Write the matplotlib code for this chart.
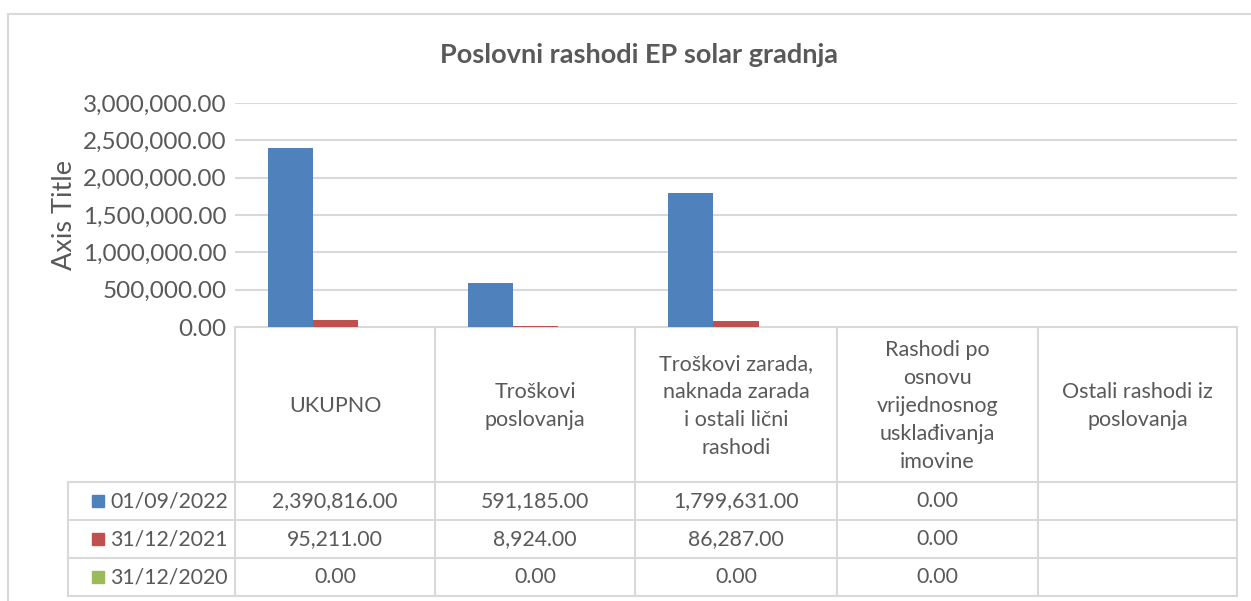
import matplotlib
matplotlib.use("Agg")
import matplotlib.pyplot as plt
from matplotlib.patches import Rectangle
from matplotlib.ticker import FuncFormatter, MultipleLocator

# podaci
categories = [
    "UKUPNO",
    "Troškovi\nposlovanja",
    "Troškovi zarada,\nnaknada zarada\ni ostali lični\nrashodi",
    "Rashodi po\nosnovu\nvrijednosnog\nusklađivanja\nimovine",
    "Ostali rashodi iz\nposlovanja",
]
series_names = ["01/09/2022", "31/12/2021", "31/12/2020"]
values_2022 = [2390816.00, 591185.00, 1799631.00, 0.00, None]
values_2021 = [95211.00, 8924.00, 86287.00, 0.00, None]
values_2020 = [0.00, 0.00, 0.00, 0.00, None]
series_values = [values_2022, values_2021, values_2020]
colors = ["#4F81BD", "#C0504D", "#9BBB59"]

TEXT = "#595959"
GRID = "#D9D9D9"
FONT = "Lato"

W, H = 1251, 601
fig = plt.figure(figsize=(W / 100, H / 100), dpi=100)


def px_rect(x0, y0, x1, y1):
    # pikseli (gore-lijevo) -> koordinate figure
    return [x0 / W, 1 - y1 / H, (x1 - x0) / W, (y1 - y0) / H]


# okvir grafikona
bg = fig.add_axes([0, 0, 1, 1])
bg.set_xlim(0, W)
bg.set_ylim(H, 0)
bg.axis("off")
bg.plot([8, W], [14, 14], color=GRID, lw=1.5)
bg.plot([8, 8], [14, H], color=GRID, lw=1.5)

# naslov
fig.text(639 / W, 1 - 55 / H, "Poslovni rashodi EP solar gradnja", ha="center", va="center",
         fontsize=19.5, fontweight="bold", color=TEXT, family=FONT)

# glavni dio grafikona
ax = fig.add_axes(px_rect(235, 103, 1237, 327))
n = len(categories)
bar_w = 0.225
for i, (vals, col) in enumerate(zip(series_values, colors)):
    xs = [k + (i - 1) * bar_w for k in range(n) if vals[k] is not None]
    ys = [v for v in vals if v is not None]
    ax.bar(xs, ys, width=bar_w, color=col, zorder=3)
ax.set_xlim(-0.5, n - 0.5)
ax.set_ylim(0, 3000000)
ax.yaxis.set_major_locator(MultipleLocator(500000))
ax.yaxis.set_major_formatter(FuncFormatter(lambda v, p: f"{v:,.2f}"))
ax.grid(axis="y", color=GRID, lw=1.5, zorder=0)
for s in ax.spines.values():
    s.set_visible(False)
ax.tick_params(axis="y", length=0, pad=6, labelsize=17.5, labelcolor=TEXT)
ax.tick_params(axis="x", length=0, labelbottom=False)
for lbl in ax.get_yticklabels():
    lbl.set_family(FONT)
ax.set_ylabel("Axis Title", fontsize=19.5, color=TEXT, family=FONT, labelpad=4)

# tablica podataka
tx = [235, 435, 635, 837, 1038, 1237]
header_top, header_bot = 327, 482
row_h = 38
rows_y = [header_bot + r * row_h for r in range(len(series_names) + 1)]
tb = bg
lw = 1.5
for x in tx:
    tb.plot([x, x], [header_top, rows_y[-1]], color=GRID, lw=lw)
tb.plot([68, 68], [header_bot, rows_y[-1]], color=GRID, lw=lw)
tb.plot([tx[0], tx[-1]], [header_top, header_top], color=GRID, lw=lw)
for y in rows_y:
    tb.plot([68, tx[-1]], [y, y], color=GRID, lw=lw)

for k, cat in enumerate(categories):
    cx = (tx[k] + tx[k + 1]) / 2
    tb.text(cx, (header_top + header_bot) / 2 + 2, cat, ha="center", va="center",
            fontsize=15.5, color=TEXT, family=FONT, linespacing=1.5)

for r, (name, vals, col) in enumerate(zip(series_names, series_values, colors)):
    cy = rows_y[r] + row_h / 2
    tb.add_patch(Rectangle((92, cy - 6), 12, 12, color=col))
    tb.text(110, cy, name, ha="left", va="center", fontsize=15.3, color=TEXT, family=FONT)
    for k, v in enumerate(vals):
        if v is None:
            continue
        cx = (tx[k] + tx[k + 1]) / 2
        tb.text(cx, cy, f"{v:,.2f}", ha="center", va="center", fontsize=15.3,
                color=TEXT, family=FONT)

fig.savefig("out.png", dpi=100)
